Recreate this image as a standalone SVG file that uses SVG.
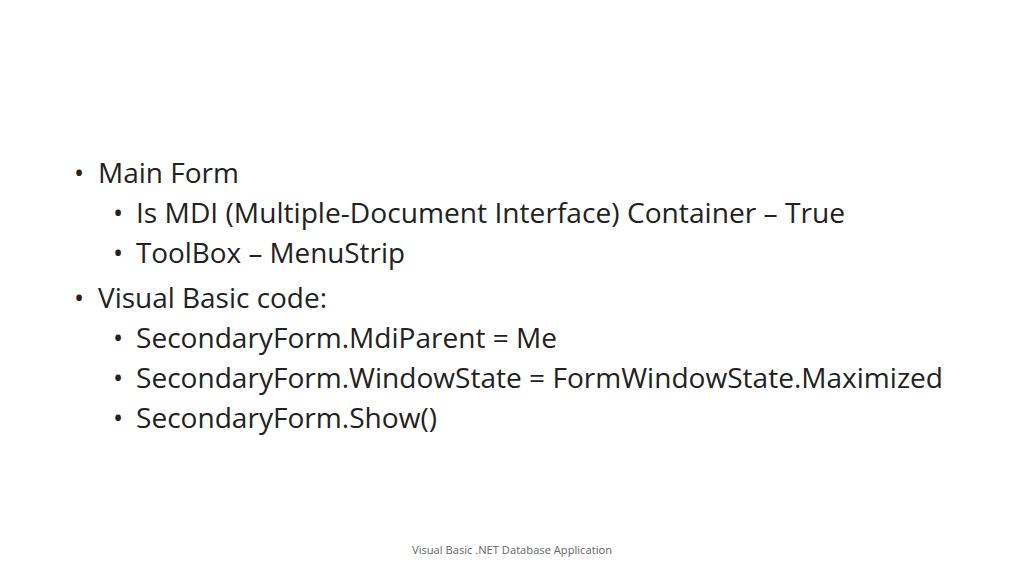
<svg xmlns="http://www.w3.org/2000/svg" width="1024" height="576" viewBox="0 0 1024 576">
<style>
.t{font-family:"Open Sans","Liberation Sans",sans-serif;font-size:27px;fill:#222}
.f{font-family:"Open Sans","Liberation Sans",sans-serif;font-size:11.5px;fill:#666}
</style>
<rect width="1024" height="576" fill="#fff"/>
<g id="content">
<text class="t" x="74" y="183">•</text>
<text class="t" x="98" y="183" textLength="141" lengthAdjust="spacingAndGlyphs">Main Form</text>
<text class="t" x="113" y="223">•</text>
<text class="t" x="136" y="223" textLength="709" lengthAdjust="spacingAndGlyphs">Is MDI (Multiple-Document Interface) Container – True</text>
<text class="t" x="113" y="263">•</text>
<text class="t" x="136" y="263" textLength="269" lengthAdjust="spacingAndGlyphs">ToolBox – MenuStrip</text>
<text class="t" x="74" y="308">•</text>
<text class="t" x="98" y="308" textLength="229" lengthAdjust="spacingAndGlyphs">Visual Basic code:</text>
<text class="t" x="113" y="348">•</text>
<text class="t" x="136" y="348" textLength="421" lengthAdjust="spacingAndGlyphs">SecondaryForm.MdiParent = Me</text>
<text class="t" x="113" y="388">•</text>
<text class="t" x="136" y="388" textLength="807" lengthAdjust="spacingAndGlyphs">SecondaryForm.WindowState = FormWindowState.Maximized</text>
<text class="t" x="113" y="428">•</text>
<text class="t" x="136" y="428" textLength="301" lengthAdjust="spacingAndGlyphs">SecondaryForm.Show()</text>
</g>
<g id="footer">
<text class="f" x="412" y="554" textLength="200" lengthAdjust="spacingAndGlyphs">Visual Basic .NET Database Application</text>
</g>
</svg>
